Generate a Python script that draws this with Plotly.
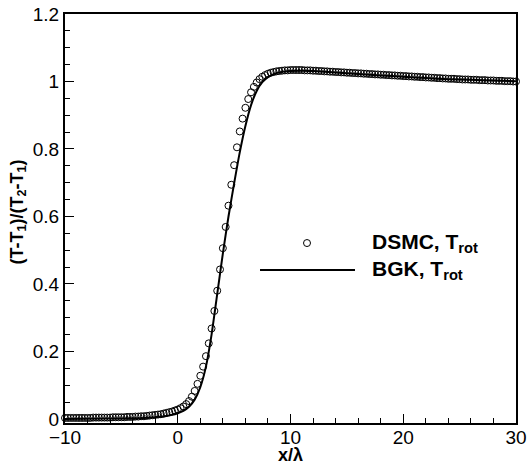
import plotly.graph_objects as go

# ---------------- data ----------------
# DSMC, T_rot : uniformly spaced samples starting at x = -10, step 0.25
DSMC_X0 = -10.0
DSMC_DX = 0.25
DSMC_Y = [
    0.003, 0.003, 0.003, 0.003, 0.003, 0.003, 0.003, 0.003, 0.003, 0.003,
    0.004, 0.004, 0.004, 0.004, 0.004, 0.004, 0.004, 0.005, 0.005, 0.005,
    0.005, 0.005, 0.006, 0.006, 0.006,
    0.007, 0.007, 0.008, 0.008, 0.009, 0.010, 0.011, 0.012, 0.013, 0.014,
    0.016, 0.018, 0.020, 0.022, 0.025, 0.028,
    0.032, 0.037, 0.044, 0.053, 0.066, 0.083, 0.104, 0.128, 0.155, 0.186,
    0.224, 0.268, 0.320, 0.380, 0.443, 0.506, 0.569, 0.632, 0.694, 0.752,
    0.805, 0.852, 0.890, 0.922, 0.948, 0.968, 0.984, 0.997, 1.007, 1.014,
    1.019, 1.023,
    1.026, 1.028, 1.030, 1.031, 1.032, 1.033, 1.033, 1.034, 1.034, 1.034,
    1.034, 1.034, 1.033, 1.033, 1.033, 1.032,
    1.032, 1.031, 1.031, 1.030, 1.030, 1.029, 1.029, 1.028, 1.028, 1.027,
    1.027, 1.026, 1.026, 1.025, 1.025, 1.024,
    1.024, 1.023, 1.023, 1.022, 1.022, 1.021, 1.021, 1.020, 1.020, 1.019,
    1.019, 1.018, 1.018, 1.017, 1.017, 1.016,
    1.016, 1.015, 1.015, 1.014, 1.014, 1.013, 1.013, 1.012, 1.012, 1.011,
    1.011, 1.010, 1.010, 1.009, 1.009, 1.008,
    1.008, 1.008, 1.007, 1.007, 1.006, 1.006, 1.006, 1.005, 1.005, 1.005,
    1.004, 1.004, 1.004, 1.003, 1.003, 1.003,
    1.002, 1.002, 1.002, 1.001, 1.001, 1.001, 1.000, 1.000,
]

# BGK, T_rot
BGK_X = [-10, -6, -4, -3, -2, -1.5, -1, -0.5, 0, 0.5, 1, 1.5, 2, 2.5, 3, 3.5,
         4, 4.5, 5, 5.5, 6, 6.5, 7, 7.5, 8, 8.5, 9, 10, 11, 12, 14, 16, 18,
         20, 22, 24, 26, 28, 30]
BGK_Y = [0.000, 0.001, 0.002, 0.003, 0.005, 0.007, 0.009, 0.012, 0.017, 0.024,
         0.036, 0.057, 0.094, 0.155, 0.250, 0.370, 0.490, 0.600, 0.698, 0.790,
         0.868, 0.930, 0.972, 0.998, 1.013, 1.022, 1.027, 1.031, 1.032, 1.031,
         1.027, 1.022, 1.018, 1.014, 1.010, 1.007, 1.005, 1.003, 1.001]

X_TICKS = [-10, 0, 10, 20, 30]
Y_TICKS = [0, 0.2, 0.4, 0.6, 0.8, 1, 1.2]
LEGEND_LABELS = ["DSMC, T<sub>rot</sub>", "BGK, T<sub>rot</sub>"]
X_TITLE = "x/λ"
Y_TITLE = "(T-T<sub>1</sub>)/(T<sub>2</sub>-T<sub>1</sub>)"

FONT = "Liberation Sans, Arial, Helvetica, sans-serif"

fig = go.Figure()
fig.add_trace(go.Scatter(
    x0=DSMC_X0, dx=DSMC_DX, y=DSMC_Y, mode="markers",
    marker=dict(symbol="circle-open", size=7, color="black",
                line=dict(width=1, color="black")),
    name=LEGEND_LABELS[0], showlegend=False, cliponaxis=False))
fig.add_trace(go.Scatter(
    x=BGK_X, y=BGK_Y, mode="lines",
    line=dict(color="black", width=2, shape="spline", smoothing=0.6),
    name=LEGEND_LABELS[1], showlegend=False))

# manual legend (paper coordinates)
fig.add_shape(type="circle", xref="paper", yref="paper",
              xsizemode="pixel", ysizemode="pixel",
              xanchor=0.5366, yanchor=0.44, x0=-3.5, x1=3.5, y0=-3.5, y1=3.5,
              line=dict(color="black", width=1))
fig.add_shape(type="line", xref="paper", yref="paper",
              x0=0.4324, x1=0.643, y0=0.374, y1=0.374,
              line=dict(color="black", width=2))
for lab, yy in zip(LEGEND_LABELS, [0.44, 0.374]):
    fig.add_annotation(text="<b>" + lab + "</b>", xref="paper", yref="paper",
                       x=0.676, y=yy, xanchor="left", yanchor="middle",
                       showarrow=False, font=dict(family=FONT, size=21, color="black"))

# axis titles
fig.add_annotation(text="<b>" + X_TITLE + "</b>", xref="paper", yref="paper",
                   x=0.5, y=0, yshift=-32, xanchor="center", yanchor="middle",
                   showarrow=False, font=dict(family=FONT, size=18, color="black"))
fig.add_annotation(text="<b>" + Y_TITLE + "</b>", xref="paper", yref="paper",
                   x=0, y=0.5, xshift=-47, yshift=6, textangle=-90,
                   xanchor="center", yanchor="middle",
                   showarrow=False, font=dict(family=FONT, size=18, color="black"))

axis_common = dict(
    showline=True, linecolor="black", linewidth=2, mirror=True,
    ticks="inside", tickcolor="black", tickwidth=1, ticklen=9,
    showgrid=False, zeroline=False, automargin=False,
    tickfont=dict(family=FONT, size=19, color="black"),
)
fig.update_xaxes(range=[-10, 30], tickvals=X_TICKS, ticklabelstandoff=-4,
                 minor=dict(dtick=2, ticks="inside", ticklen=5, tickcolor="black", tickwidth=1),
                 **axis_common)
fig.update_yaxes(range=[-0.012, 1.2], tickvals=Y_TICKS,
                 minor=dict(dtick=0.05, ticks="inside", ticklen=5, tickcolor="black", tickwidth=1),
                 **axis_common)
fig.update_layout(width=532, height=471, margin=dict(l=65, r=16, t=14, b=48),
                  plot_bgcolor="white", paper_bgcolor="white",
                  font=dict(family=FONT, color="black"))
fig.write_html("out.html", config={"displayModeBar": False},
               post_script="document.body.style.margin='0';document.body.style.padding='0';")
